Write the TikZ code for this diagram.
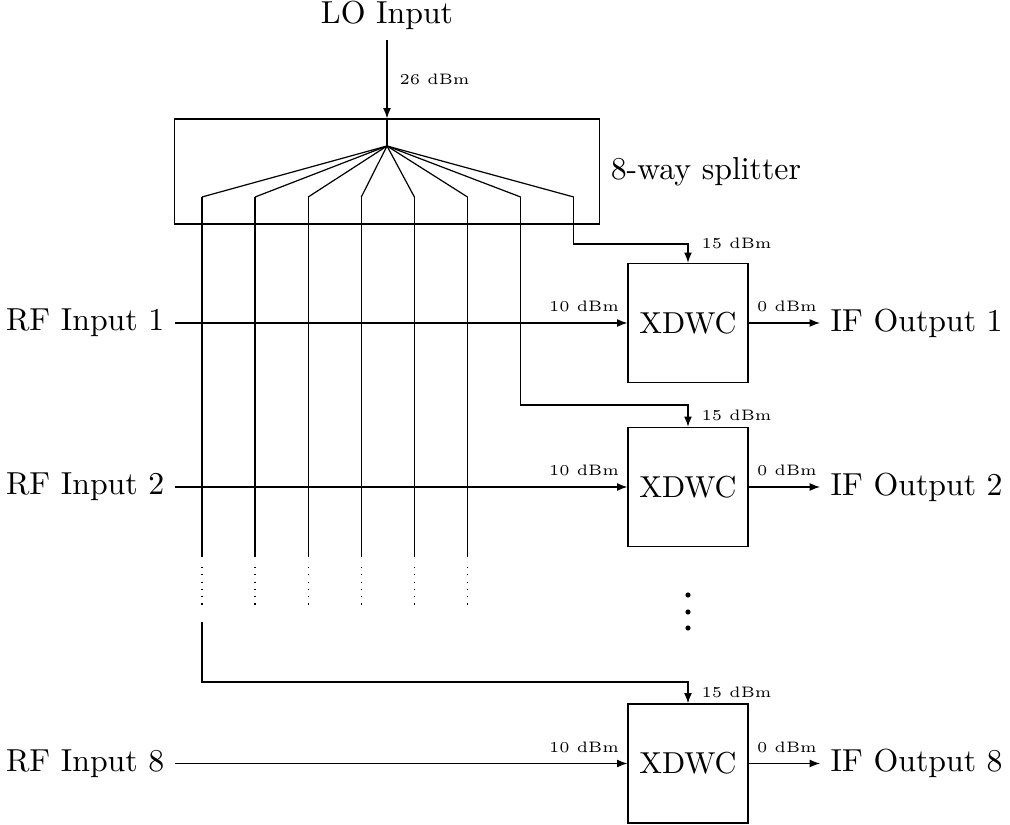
\documentclass[tikz,border=0pt]{standalone}
\usetikzlibrary{arrows.meta}
\begin{document}
\begin{tikzpicture}[x=0.33pt,y=-0.33pt,
  >={Latex[length=3.4pt,width=2.6pt]},
  mixer/.style={draw, minimum width=39.6pt, minimum height=39.3pt, inner sep=0pt, font=\normalsize},
  pw/.style={font=\tiny, inner sep=0pt},
  port/.style={font=\fontsize{10.5}{12.6}\selectfont}]
\useasboundingbox (0,0) rectangle (1010,825);
% LO input and splitter
\node[port] (lo) at (387,15) {LO Input};
\node[draw, minimum width=140.25pt, minimum height=34.65pt, inner sep=0pt] (split) at (387,171.5) {};
\node[port, anchor=west] (splitlbl) at (split.east) {8-way splitter};
\coordinate (f) at (387,146);
\draw[->] (lo) -- (split.north);
\node[pw, anchor=base west] (lolbl) at (399,85) {26 dBm};
\draw (split.north) -- (f);
% mixers
\node[mixer] (x1) at (688,323) {XDWC};
\node[mixer] (x2) at (688,487) {XDWC};
\node[mixer] (x8) at (688,763.5) {XDWC};
% RF inputs
\node[port, anchor=east] (rf1) at (175,323) {RF Input 1};
\node[port, anchor=east] (rf2) at (175,487) {RF Input 2};
\node[port, anchor=east] (rf8) at (175,763.5) {RF Input 8};
% IF outputs
\node[port, anchor=west] (if1) at (820,323) {IF Output 1};
\node[port, anchor=west] (if2) at (820,487) {IF Output 2};
\node[port, anchor=west] (if8) at (820,763.5) {IF Output 8};
\foreach \n in {1,2,8}{
  \draw[->] (rf\n) -- (x\n);
  \draw[->] (x\n) -- (if\n);
}
\node[pw, anchor=base] (rl1) at (584,312) {10 dBm};
\node[pw, anchor=base] (rl2) at (584,476) {10 dBm};
\node[pw, anchor=base] (rl8) at (584,752.5) {10 dBm};
\node[pw, anchor=base] (il1) at (787,312) {0 dBm};
\node[pw, anchor=base] (il2) at (787,476) {0 dBm};
\node[pw, anchor=base] (il8) at (787,752.5) {0 dBm};
% splitter branches
\foreach \i/\x in {1/202,2/255.1,3/308.2,4/361.3,5/414.4,6/467.5,7/520.6,8/573.7}{
  \coordinate (b\i) at (\x,197);
  \draw (f) -- (b\i);
}
\foreach \i in {1,...,6}{
  \coordinate (e\i) at (b\i |- 0,557);
  \coordinate (d\i) at (b\i |- 0,567);
  \coordinate (g\i) at (b\i |- 0,608);
  \draw (b\i) -- (e\i);
  \draw[dotted] (d\i) -- (g\i);
}
\coordinate (r1) at (202,622);
\coordinate (c1) at (202,682);
\draw[->] (r1) -- (c1) -| (x8.north);
\coordinate (c7) at (b7 |- 0,405);
\draw[->] (b7) -- (c7) -| (x2.north);
\coordinate (c8) at (b8 |- 0,244);
\draw[->] (b8) -- (c8) -| (x1.north);
\node[pw, anchor=base west] (ll1) at (701,249) {15 dBm};
\node[pw, anchor=base west] (ll2) at (701,421) {15 dBm};
\node[pw, anchor=base west] (ll8) at (701,698) {15 dBm};
% vertical dots
\foreach \k/\y in {1/595,2/612,3/628}{
  \fill (688,\y) circle (0.85pt) coordinate (dot\k);
}
\end{tikzpicture}
\end{document}
